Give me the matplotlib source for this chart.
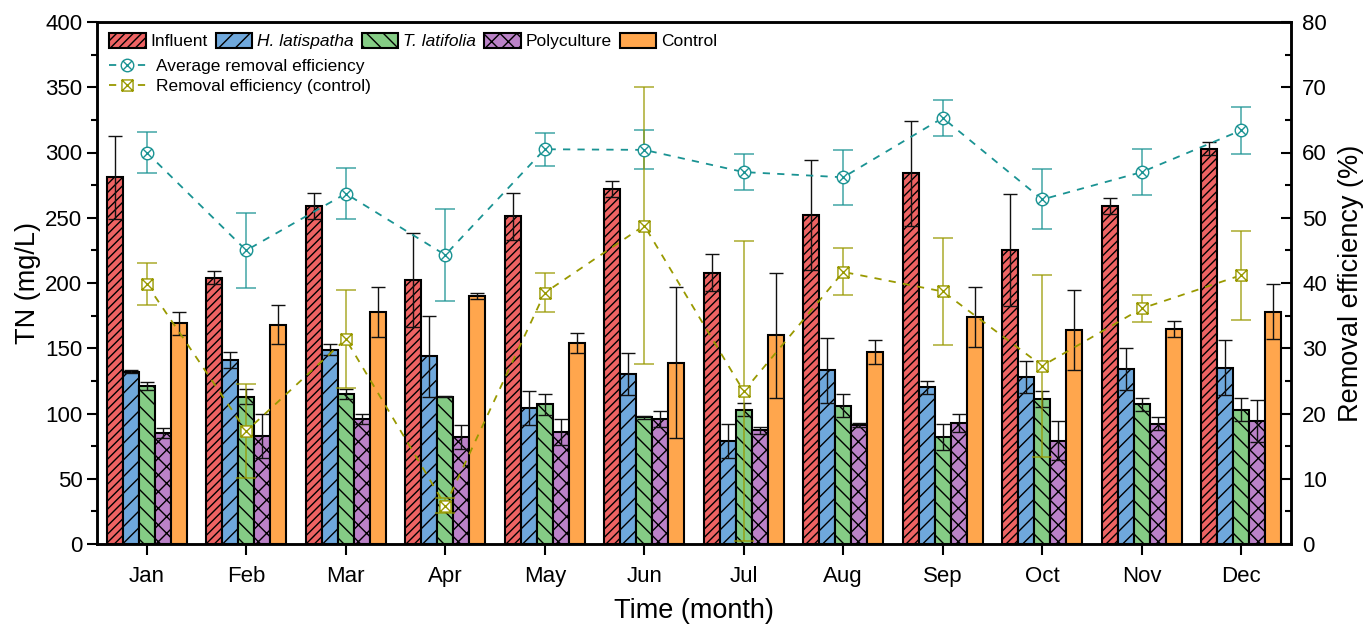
import matplotlib
matplotlib.use("Agg")
import matplotlib.pyplot as plt
import numpy as np
from matplotlib.path import Path
from matplotlib.patches import Patch
from matplotlib.lines import Line2D
from matplotlib.ticker import MultipleLocator

plt.rcParams['font.family'] = ['Liberation Sans', 'DejaVu Sans']
plt.rcParams['hatch.linewidth'] = 1.0

months = ['Jan', 'Feb', 'Mar', 'Apr', 'May', 'Jun', 'Jul', 'Aug', 'Sep', 'Oct', 'Nov', 'Dec']
influent = [281, 204, 259, 202, 251, 272, 208, 252, 284, 225, 259, 303]
influent_err = [32, 5, 10, 36, 18, 6, 14, 42, 40, 43, 6, 5]
h_latispatha = [132, 141, 149, 144, 104, 130, 79, 133, 120, 128, 134, 135]
h_latispatha_err = [1, 6, 4, 31, 13, 16, 13, 25, 5, 12, 16, 21]
t_latifolia = [121, 113, 115, 113, 107, 97, 103, 106, 82, 111, 107, 103]
t_latifolia_err = [3, 6, 4, 0.5, 8, 1, 5, 9, 10, 6, 5, 9]
polyculture = [85, 83, 96, 82, 86, 96, 87, 91, 93, 79, 92, 94]
polyculture_err = [4, 17, 4, 9, 10, 6, 3, 1.5, 7, 15, 5, 16]
control = [169, 168, 178, 190, 154, 139, 160, 147, 174, 164, 165, 178]
control_err = [9, 15, 19, 2, 8, 58, 48, 9, 23, 31, 6, 21]
avg_eff = [60.0, 45.0, 53.7, 44.3, 60.5, 60.4, 57.0, 56.2, 65.3, 52.8, 57.0, 63.4]
avg_eff_err = [3.2, 5.8, 3.9, 7.0, 2.5, 3.0, 2.7, 4.2, 2.8, 4.6, 3.5, 3.6]
ctrl_eff = [39.8, 17.3, 31.4, 5.9, 38.5, 48.8, 23.4, 41.7, 38.7, 27.3, 36.1, 41.2]
ctrl_eff_err = [3.2, 7.2, 7.5, 1.2, 3.0, 21.2, 23.0, 3.6, 8.2, 14.0, 2.1, 6.8]

# custom markers
circ = Path.unit_circle()
d = 0.7071
xl = Path([(-d, -d), (d, d), (-d, d), (d, -d)],
          [Path.MOVETO, Path.LINETO, Path.MOVETO, Path.LINETO])
circle_x = Path.make_compound_path(circ, xl)
sq = Path([(-1, -1), (1, -1), (1, 1), (-1, 1), (-1, -1)],
          [Path.MOVETO, Path.LINETO, Path.LINETO, Path.LINETO, Path.CLOSEPOLY])
sqx = Path([(-1, -1), (1, 1), (-1, 1), (1, -1)],
           [Path.MOVETO, Path.LINETO, Path.MOVETO, Path.LINETO])
square_x = Path.make_compound_path(sq, sqx)

fig = plt.figure(figsize=(13.64, 6.24), dpi=100)
ax = fig.add_axes([97 / 1364, 1 - 544 / 624, (1291 - 97) / 1364, (544 - 22) / 624])

x = np.arange(len(months))
w = 0.16
series = [
    (influent, influent_err, '#EE6363', '////', 'Influent'),
    (h_latispatha, h_latispatha_err, '#6FA8DC', '//', 'H. latispatha'),
    (t_latifolia, t_latifolia_err, '#85CC85', '\\\\', 'T. latifolia'),
    (polyculture, polyculture_err, '#BB82C8', 'xx', 'Polyculture'),
    (control, control_err, '#FFA64D', '', 'Control'),
]
handles = []
for i, (vals, errs, col, hat, lab) in enumerate(series):
    pos = x + (i - 2) * w
    ax.bar(pos, vals, width=w, color=col, edgecolor='black', linewidth=1.5,
           hatch=hat, zorder=2)
    ax.errorbar(pos, vals, yerr=errs, fmt='none', ecolor='#111111', elinewidth=1.0,
                capsize=5, capthick=1.0, zorder=3)
    handles.append(Patch(facecolor=col, edgecolor='black', hatch=hat, linewidth=1.5, label=lab))

ax.set_xlim(-0.5, 11.5)
ax.set_ylim(0, 400)
ax.set_xticks(x)
ax.set_xticklabels(months)
ax.yaxis.set_major_locator(MultipleLocator(50))
ax.yaxis.set_minor_locator(MultipleLocator(25))
ax.tick_params(axis='x', direction='out', length=8, width=1.5, labelsize=16, pad=8)
ax.tick_params(axis='y', which='major', direction='out', length=7, width=1.5, labelsize=16)
ax.tick_params(axis='y', which='minor', direction='out', length=4, width=1.5)
for s in ax.spines.values():
    s.set_linewidth(1.8)
ax.set_ylabel('TN (mg/L)', fontsize=19.5, labelpad=3)
ax.set_xlabel('Time (month)', fontsize=19.5, labelpad=8)

ax2 = ax.twinx()
ax2.set_ylim(0, 80)
ax2.yaxis.set_major_locator(MultipleLocator(10))
ax2.yaxis.set_minor_locator(MultipleLocator(5))
ax2.tick_params(axis='y', which='major', direction='in', length=7, width=1.5, labelsize=16, pad=8)
ax2.tick_params(axis='y', which='minor', direction='in', length=4, width=1.5)
for s in ax2.spines.values():
    s.set_linewidth(1.8)
ax2.set_ylabel('Removal efficiency (%)', fontsize=19.5, labelpad=8)

teal = '#1A9393'
olive = '#999900'
ax2.errorbar(x, avg_eff, yerr=avg_eff_err, fmt='none', ecolor=teal, alpha=0.7,
             elinewidth=1.3, capsize=7, capthick=1.3, zorder=3)
ax2.plot(x, avg_eff, color=teal, linestyle=(0, (4, 4)), linewidth=1.3,
         marker=circle_x, markersize=9, markerfacecolor='white', markeredgecolor=teal,
         markeredgewidth=1.0, zorder=4)
ax2.errorbar(x, ctrl_eff, yerr=ctrl_eff_err, fmt='none', ecolor=olive, alpha=0.7,
             elinewidth=1.3, capsize=7, capthick=1.3, zorder=3)
ax2.plot(x, ctrl_eff, color=olive, linestyle=(0, (4, 4)), linewidth=1.3,
         marker=square_x, markersize=8, markerfacecolor='white', markeredgecolor=olive,
         markeredgewidth=1.0, zorder=4)

leg1 = ax2.legend(handles=handles, loc='upper left', bbox_to_anchor=(0.0, 1.002),
                  ncol=5, frameon=False, fontsize=12.5, handlelength=2.1, handleheight=0.9,
                  handletextpad=0.25, columnspacing=0.5, borderaxespad=0.3)
leg1.get_texts()[1].set_fontstyle('italic')
leg1.get_texts()[2].set_fontstyle('italic')
ax2.add_artist(leg1)
lh = [Line2D([], [], color=teal, linestyle=(0, (4, 4)), linewidth=1.3, marker=circle_x,
             markersize=9, markerfacecolor='white', markeredgecolor=teal, markeredgewidth=1.0,
             label='Average removal efficiency'),
      Line2D([], [], color=olive, linestyle=(0, (4, 4)), linewidth=1.3, marker=square_x,
             markersize=8, markerfacecolor='white', markeredgecolor=olive, markeredgewidth=1.0,
             label='Removal efficiency (control)')]
ax2.legend(handles=lh, loc='upper left', bbox_to_anchor=(0.0, 0.953), frameon=False,
           fontsize=12.5, handlelength=2.1, handletextpad=0.6, labelspacing=0.3,
           borderaxespad=0.3)

fig.savefig('out.png', dpi=100)
